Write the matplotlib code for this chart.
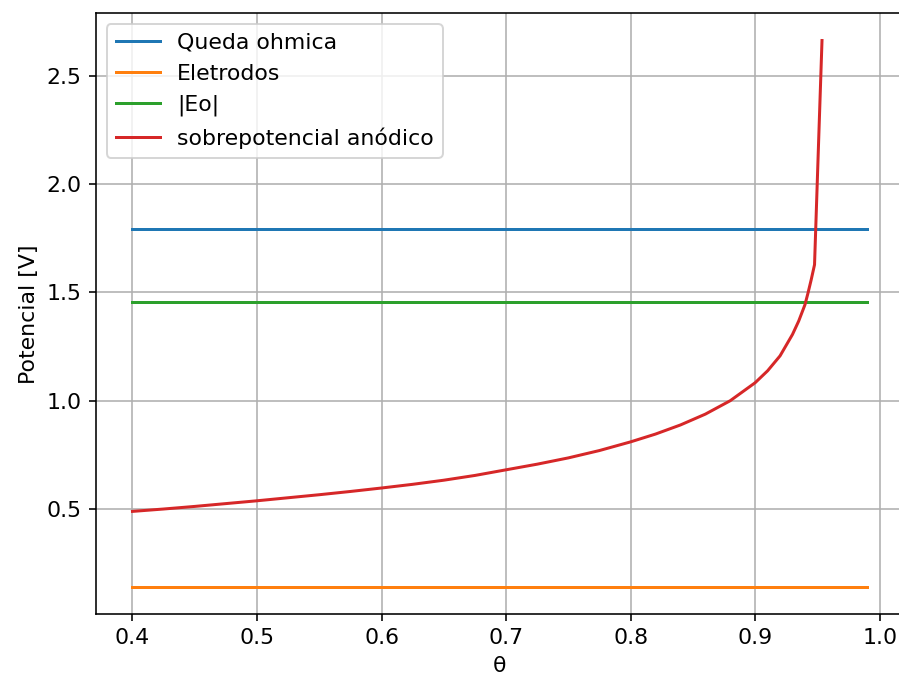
import numpy as np
import matplotlib
matplotlib.use('Agg')
import matplotlib.pyplot as plt

plt.rcParams['font.size'] = 11

# faixa de theta usada nas retas constantes
theta_lim = [0.40, 0.99]

queda_ohmica = 1.793
eletrodos = 0.140
eo_abs = 1.457

# sobrepotencial anodico em funcao de theta
theta = [0.400, 0.425, 0.450, 0.475, 0.500, 0.525, 0.550, 0.575, 0.600,
         0.625, 0.650, 0.675, 0.700, 0.725, 0.750, 0.775, 0.800, 0.820,
         0.840, 0.860, 0.880, 0.900, 0.910, 0.920, 0.930, 0.935, 0.940,
         0.9424, 0.945, 0.9477, 0.9510, 0.9537]
sobrepot = [0.489, 0.500, 0.512, 0.525, 0.538, 0.552, 0.566, 0.581, 0.597,
            0.614, 0.633, 0.655, 0.681, 0.707, 0.736, 0.770, 0.810, 0.846,
            0.888, 0.938, 1.000, 1.083, 1.138, 1.207, 1.306, 1.368, 1.443,
            1.496, 1.558, 1.628, 2.200, 2.663]

fig = plt.figure(figsize=(899/144, 680/144), dpi=144)
ax = fig.add_axes([0.1065, 0.0966, 0.899, 0.884])

ax.plot(theta_lim, [queda_ohmica]*2, label='Queda ohmica')
ax.plot(theta_lim, [eletrodos]*2, label='Eletrodos')
ax.plot(theta_lim, [eo_abs]*2, label='|Eo|')
ax.plot(theta, sobrepot, label='sobrepotencial anódico')

ax.set_xlabel('θ')
ax.set_ylabel('Potencial [V]')
ax.grid(True)
ax.legend(loc='upper left')

fig.savefig('out.png', dpi=144)
